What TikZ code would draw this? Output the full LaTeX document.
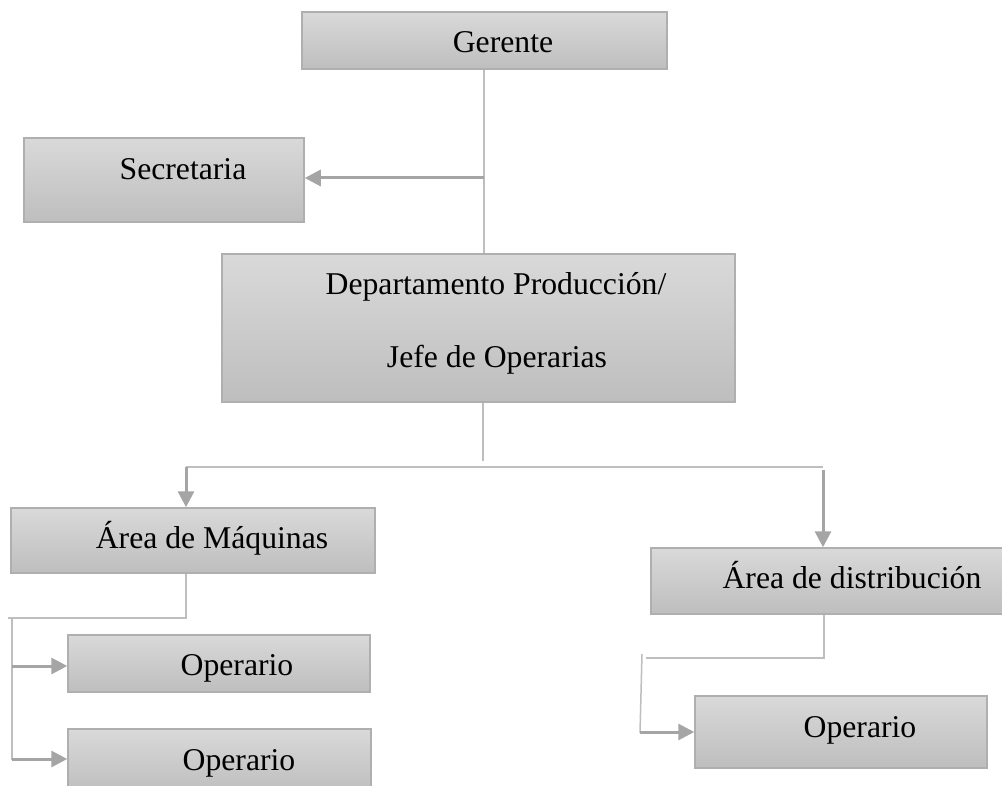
\documentclass[tikz,border=0pt]{standalone}
\usepackage{fontspec}
\setmainfont{Liberation Serif}
\usetikzlibrary{arrows.meta}
\definecolor{boxtop}{RGB}{217,217,217}
\definecolor{boxbot}{RGB}{190,190,190}
\definecolor{boxline}{RGB}{175,175,175}
\definecolor{thinline}{RGB}{190,190,190}
\definecolor{arrline}{RGB}{165,165,165}
\tikzset{
  orgbox/.style={rectangle, draw=boxline, line width=1.5pt, top color=boxtop, bottom color=boxbot, inner sep=0pt},
  lbl/.style={anchor=base, inner sep=0pt, font=\fontsize{31.7}{38}\selectfont},
  conn/.style={draw=thinline, line width=1.5pt},
  arr/.style={draw=arrline, line width=3pt, -{Triangle[length=16pt,width=16pt]}}
}
\begin{document}
\begin{tikzpicture}[x=1pt,y=-1pt]
\clip (0,0) rectangle (1002,786);
\fill[white] (0,0) rectangle (1002,786);
% boxes
\node[orgbox, minimum width=365pt, minimum height=57pt] (g) at (484.5,40.5) {};
\node[orgbox, minimum width=280pt, minimum height=84pt] (s) at (164,180) {};
\node[orgbox, minimum width=513pt, minimum height=148pt] (d) at (478.5,328) {};
\node[orgbox, minimum width=364pt, minimum height=65pt] (m) at (193,540.5) {};
\node[orgbox, minimum width=302pt, minimum height=57pt] (o1) at (219,663.5) {};
\node[orgbox, minimum width=303pt, minimum height=64pt] (o2) at (219.5,761) {};
\node[orgbox, minimum width=366pt, minimum height=66pt] (a) at (834,581) {};
\node[orgbox, minimum width=292pt, minimum height=72pt] (o3) at (841,732) {};
% labels
\node[lbl] (gt) at (503,53) {Gerente};
\node[lbl] (st) at (183,180) {Secretaria};
\node[lbl] (dt1) at (496,295) {Departamento Producción/};
\node[lbl] (dt2) at (497,368) {Jefe de Operarias};
\node[lbl] (mt) at (212,548) {Área de Máquinas};
\node[lbl] (o1t) at (237,675) {Operario};
\node[lbl] (o2t) at (239,770) {Operario};
\node[lbl] (at) at (852,588) {Área de distribución};
\node[lbl] (o3t) at (860,737) {Operario};
% connectors
\coordinate (gs) at (484,178);
\draw[conn] (g.south -| gs) -- (d.north -| gs);
\draw[arr] (gs) -- (gs -| s.east);
\coordinate (dj) at (483,461);
\draw[conn] (d.south -| dj) -- (dj);
\coordinate (hl) at (186,467);
\coordinate (hr) at (823,467);
\coordinate (hr2) at (823,470);
\draw[conn] (hl) -- (hr);
\draw[arr] (hl) -- (hl |- m.north);
\draw[arr] (hr2) -- (hr2 |- a.north);
% Maquinas branch
\coordinate (mj) at (186,618);
\coordinate (ml) at (8,618);
\draw[conn] (m.south -| mj) -- (mj) -- (ml);
\coordinate (mv1) at (12,618);
\coordinate (mv2) at (12,760);
\draw[conn] (mv1) -- (mv2);
\coordinate (m1) at (12,666);
\coordinate (m2) at (12,759);
\draw[arr] (m1) -- (m1 -| o1.west);
\draw[arr] (m2) -- (m2 -| o2.west);
% distribucion branch
\coordinate (aj) at (824,658);
\coordinate (al) at (646,658);
\draw[conn] (a.south -| aj) -- (aj) -- (al);
\coordinate (av1) at (642,654);
\coordinate (av2) at (640,733);
\draw[conn] (av1) -- (av2);
\coordinate (a1) at (640,732);
\draw[arr] (a1) -- (a1 -| o3.west);
\end{tikzpicture}
\end{document}
